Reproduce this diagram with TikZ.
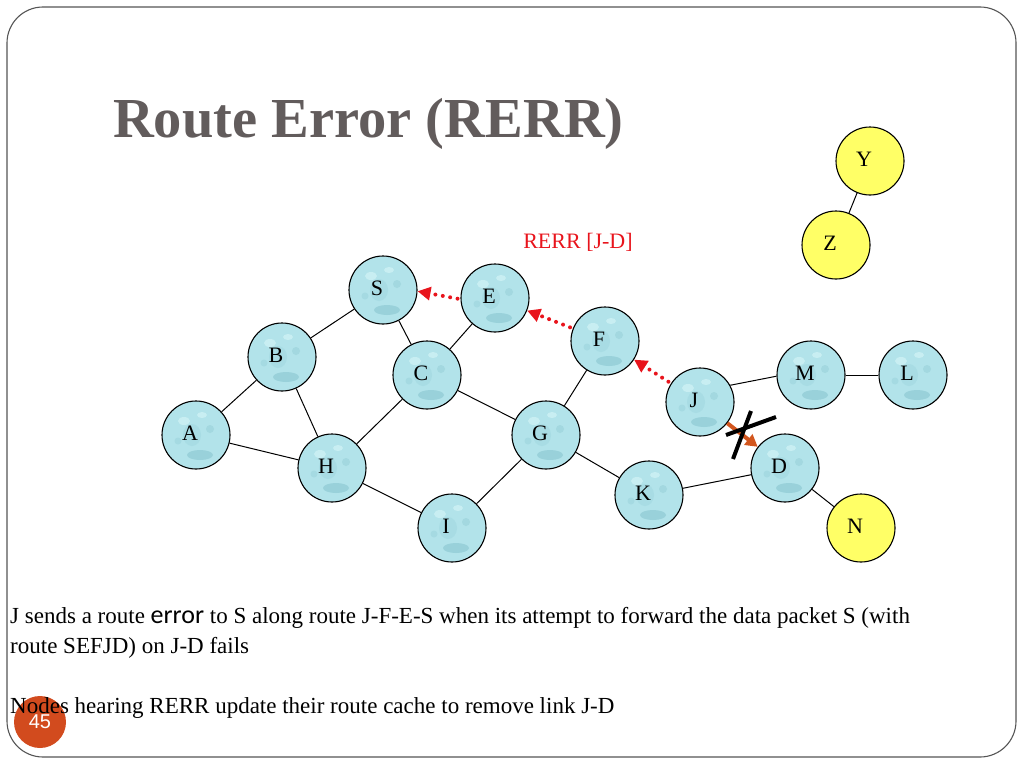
\documentclass[tikz,border=0pt]{standalone}
\usepackage{fontspec}
\setmainfont{Liberation Serif}
\newfontfamily\errfont{Carlito}
\newfontfamily\numfont{Liberation Sans}
\usetikzlibrary{arrows.meta}
\definecolor{titlegray}{HTML}{625C5C}
\definecolor{bordergray}{HTML}{555555}
\definecolor{nodecyan}{HTML}{B2E3EA}
\definecolor{nodedark}{HTML}{99D1DA}
\definecolor{nodelight}{HTML}{C8EEF2}
\definecolor{nodeyellow}{HTML}{FFFF66}
\definecolor{rerrred}{HTML}{E8141C}
\definecolor{failorange}{HTML}{D2561E}
\definecolor{pagered}{HTML}{D24B1E}
\tikzset{
  netnode/.style={circle, draw=black, line width=1.1pt, minimum size=68pt, inner sep=0pt,
    fill=nodecyan,
    path picture={
      \fill[nodedark] ([xshift=4pt,yshift=-20pt]path picture bounding box.center) ellipse (13pt and 5pt);
      \fill[nodelight] ([xshift=-12pt,yshift=14pt]path picture bounding box.center) ellipse (6pt and 4pt);
      \fill[nodelight] ([xshift=6pt,yshift=20pt]path picture bounding box.center) ellipse (5pt and 3pt);
      \fill[nodedark!60!nodecyan] ([xshift=14pt,yshift=6pt]path picture bounding box.center) circle (4pt);
      \fill[nodedark!50!nodecyan] ([xshift=-18pt,yshift=-6pt]path picture bounding box.center) circle (3.5pt);
      \fill[nodedark!40!nodecyan] ([xshift=-4pt,yshift=0pt]path picture bounding box.center) ellipse (9pt and 11pt);
    }},
  yelnode/.style={circle, draw=black, line width=1.1pt, minimum size=68pt, inner sep=0pt,
    fill=nodeyellow},
  nodelabel/.style={inner sep=0pt, font=\fontsize{22}{24}\selectfont},
  link/.style={draw=black, line width=1pt},
  rerrarrow/.style={draw=rerrred, line width=4pt, line cap=round, dash pattern=on 0pt off 7.5pt,
    -{Triangle[length=13pt,width=13pt]}, shorten <=3pt},
  failarrow/.style={draw=failorange, line width=4pt, -{Triangle[length=12pt,width=13pt]}},
  crossline/.style={draw=black, line width=4pt},
  bodytext/.style={anchor=base west, inner sep=0pt, font=\fontsize{23}{26}\selectfont}
}
\begin{document}
\begin{tikzpicture}[x=1pt,y=-1pt]
\useasboundingbox (0,0) rectangle (1024,768);
\draw[bordergray, line width=1.1pt, rounded corners=36pt] (7,7) rectangle (1016,757);

\node[anchor=base west, inner sep=0pt, text=titlegray, font=\fontsize{56.5}{60}\selectfont\bfseries] (title) at (113,137) {Route Error (RERR)};

% nodes
\node[netnode] (S) at (383,290) {};
\node[netnode] (E) at (495,298) {};
\node[netnode] (F) at (605,341) {};
\node[netnode] (B) at (282,357) {};
\node[netnode] (C) at (427,375) {};
\node[netnode] (A) at (196,435) {};
\node[netnode] (H) at (332,468) {};
\node[netnode] (G) at (546,435) {};
\node[netnode] (I) at (452,528) {};
\node[netnode] (K) at (649,495) {};
\node[netnode] (J) at (700,402) {};
\node[netnode] (M) at (811,375) {};
\node[netnode] (L) at (913,375) {};
\node[netnode] (D) at (785,468) {};
\node[yelnode] (N) at (861,528) {};
\node[yelnode] (Y) at (870,161) {};
\node[yelnode] (Z) at (836,245) {};

% labels
\foreach \n in {S,E,F,B,C,A,H,G,I,K,J,M,L,D,N,Y,Z}{
  \node[nodelabel] (lab\n) at ([xshift=-6pt,yshift=2pt]\n.center) {\n};
}

% links
\draw[link] (S) -- (B);
\draw[link] (S) -- (C);
\draw[link] (E) -- (C);
\draw[link] (B) -- (A);
\draw[link] (B) -- (H);
\draw[link] (A) -- (H);
\draw[link] (C) -- (H);
\draw[link] (C) -- (G);
\draw[link] (G) -- (F);
\draw[link] (G) -- (I);
\draw[link] (H) -- (I);
\draw[link] (G) -- (K);
\draw[link] (K) -- (D);
\draw[link] (J.29) -- (M.182);
\draw[link] (M) -- (L);
\draw[link] (D) -- (N);
\draw[link] (Y) -- (Z);

% RERR propagation
\draw[rerrarrow] (E.182) -- (S.358);
\draw[rerrarrow] (F) -- (E);
\draw[rerrarrow] (J) -- (F);
\node[anchor=base, inner sep=0pt, text=rerrred, font=\fontsize{22}{24}\selectfont] (rerrlabel) at (578,248) {RERR [J-D]};

% failed link J-D
\draw[failarrow] (J) -- (D);
\coordinate (x1a) at (726,435);
\coordinate (x1b) at (776,417);
\coordinate (x2a) at (751,411);
\coordinate (x2b) at (733,459);
\draw[crossline] (x1a) -- (x1b);
\draw[crossline] (x2a) -- (x2b);

% body text
\node[bodytext] (line1) at (10,623) {J sends a route {\errfont\fontsize{26}{26}\selectfont error} to S along route J-F-E-S when its attempt to forward the data packet S (with};
\node[bodytext] (line2) at (10,653) {route SEFJD) on J-D fails};
\node[circle, fill=pagered, minimum size=52pt, inner sep=0pt] (page) at (40,722) {};
\node[bodytext] (line3) at (10,713) {Nodes hearing RERR update their route cache to remove link J-D};
\node[text=white, inner sep=0pt, font=\numfont\fontsize{20}{22}\selectfont] (pagenum) at (40,722) {45};
\end{tikzpicture}
\end{document}
